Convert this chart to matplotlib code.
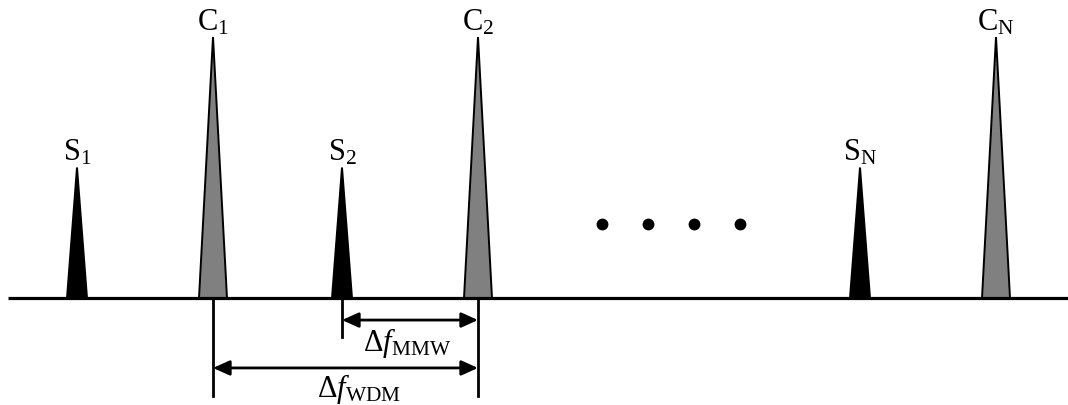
import numpy as np
import matplotlib.pyplot as plt

plt.rcParams['mathtext.fontset'] = 'custom'
plt.rcParams['mathtext.rm'] = 'Liberation Serif'
plt.rcParams['mathtext.it'] = 'Liberation Serif:italic'
plt.rcParams['mathtext.bf'] = 'Liberation Serif:bold'

# spectrum lines (frequency in arbitrary units, height relative)
sig_freq = [77, 342, 860]
sig_height = [1.0, 1.0, 1.0]
sig_labels = [r'S$_1$', r'S$_2$', r'S$_\mathrm{N}$']

car_freq = [213, 478, 996]
car_height = [2.0, 2.0, 2.0]
car_labels = [r'C$_1$', r'C$_2$', r'C$_\mathrm{N}$']

dots_freq = [602, 648, 694, 740]
dots_level = 0.567

fig = plt.figure(figsize=(10.68, 4.06), dpi=100)
ax = fig.add_axes([0, 0, 1, 1])
ax.set_xlim(0, 1068)
ax.set_ylim(-107 / 130.5, 299 / 130.5)
ax.axis('off')

fs = 22

def peak(x, h, hw, face, label):
    ax.fill([x - hw, x, x + hw], [0, h, 0], facecolor=face,
            edgecolor='black', lw=1.4, zorder=2, joinstyle='miter')
    ax.text(x, h + 0.06, label, ha='center', va='baseline',
            fontsize=fs, family='Liberation Serif')

for x, h, lab in zip(sig_freq, sig_height, sig_labels):
    peak(x, h, 10, 'black', lab)
for x, h, lab in zip(car_freq, car_height, car_labels):
    peak(x, h, 14, '#808080', lab)

# frequency axis
ax.plot([8, 1068], [0, 0], color='black', lw=2.3, zorder=3,
        solid_capstyle='butt')

# dots
ax.plot(dots_freq, [dots_level] * len(dots_freq), 'o', color='black',
        ms=7.5, zorder=3)

# spacing markers
y_mmw = -0.169
y_wdm = -0.536
y_low = -0.75
ax.plot([sig_freq[1]] * 2, [0, -0.30], color='black', lw=2.0)
ax.plot([car_freq[0]] * 2, [0, y_low], color='black', lw=2.0)
ax.plot([car_freq[1]] * 2, [0, y_low], color='black', lw=2.0)

arrow_kw = dict(arrowstyle='<|-|>,head_length=1.0,head_width=0.45',
                color='black', lw=2.0, shrinkA=0, shrinkB=0)
ax.annotate('', xy=(car_freq[1], y_mmw), xytext=(sig_freq[1], y_mmw),
            arrowprops=arrow_kw)
ax.annotate('', xy=(car_freq[1], y_wdm), xytext=(car_freq[0], y_wdm),
            arrowprops=arrow_kw)

ax.text((sig_freq[1] + car_freq[1]) / 2 - 3, y_mmw - 0.17,
        r'$\Delta f_\mathrm{MMW}$', ha='center', va='center', fontsize=fs)
ax.text((car_freq[0] + car_freq[1]) / 2 + 13, y_wdm - 0.15,
        r'$\Delta f_\mathrm{WDM}$', ha='center', va='center', fontsize=fs)

fig.savefig('out.png', dpi=100)
